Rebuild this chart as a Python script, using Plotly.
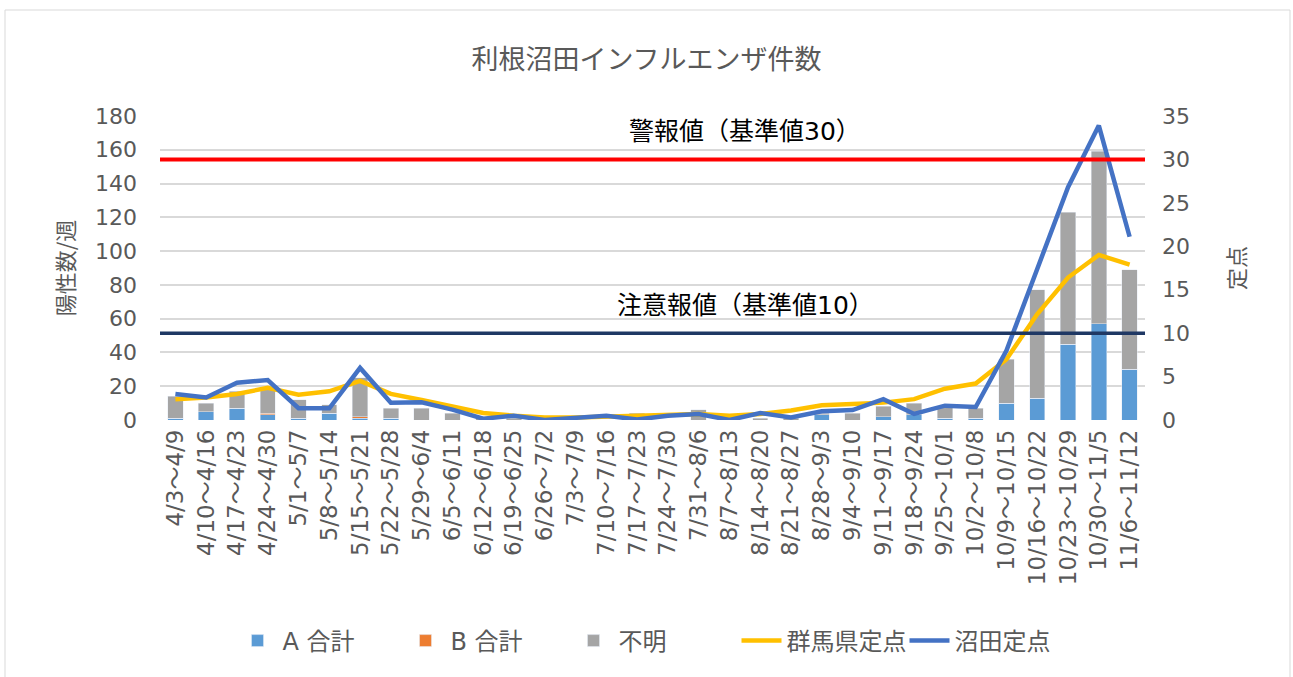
import plotly.graph_objects as go

weeks = ["4/3～4/9", "4/10～4/16", "4/17～4/23", "4/24～4/30", "5/1～5/7", "5/8～5/14",
         "5/15～5/21", "5/22～5/28", "5/29～6/4", "6/5～6/11", "6/12～6/18", "6/19～6/25",
         "6/26～7/2", "7/3～7/9", "7/10～7/16", "7/17～7/23", "7/24～7/30", "7/31～8/6",
         "8/7～8/13", "8/14～8/20", "8/21～8/27", "8/28～9/3", "9/4～9/10", "9/11～9/17",
         "9/18～9/24", "9/25～10/1", "10/2～10/8", "10/9～10/15", "10/16～10/22",
         "10/23～10/29", "10/30～11/5", "11/6～11/12"]

a_total = [1, 5, 7, 3, 1, 4, 1, 1, 0, 0, 0, 0, 0, 0, 0, 0, 0, 0, 0, 0, 0, 3, 0, 2,
           3, 1, 1, 10, 13, 45, 57, 30]
b_total = [0, 0, 0, 1, 0, 0, 1, 0, 0, 0, 0, 0, 0, 0, 0, 0, 0, 0, 0, 0, 0, 0, 0, 0,
           0, 0, 0, 0, 0, 0, 0, 0]
unknown = [13, 5, 10, 15, 11, 5, 23, 6, 7, 4, 1, 1, 0, 0, 0, 4, 0, 6, 3, 1, 1, 1, 4, 6,
           7, 7, 6, 26, 64, 78, 102, 59]

gunma = [2.4, 2.6, 3.0, 3.7, 2.9, 3.3, 4.5, 3.0, 2.3, 1.5, 0.8, 0.5, 0.3, 0.3, 0.4, 0.5,
         0.6, 0.7, 0.5, 0.7, 1.1, 1.7, 1.85, 2.0, 2.4, 3.6, 4.2, 7.0, 12.2, 16.4, 19.0, 17.9]
numata = [3.0, 2.6, 4.3, 4.6, 1.35, 1.35, 6.0, 2.0, 2.05, 1.2, 0.15, 0.5, 0.0, 0.3, 0.5, 0.05,
          0.5, 0.7, 0.0, 0.8, 0.3, 1.0, 1.15, 2.4, 0.7, 1.65, 1.5, 8.0, 17.4, 26.8, 33.9, 21.1]

alert_level = 30      # 警報値
warning_level = 10    # 注意報値

FONT = "DejaVu Sans, Noto Sans CJK JP"
CJK = "Noto Sans CJK JP"
GRAY_TXT = "#595959"

W, H = 1293, 677
PL, PR, PT, PB = 160, 1145, 116, 420   # plot area in pixels

fig = go.Figure()
fig.add_trace(go.Bar(x=weeks, y=a_total, name="A 合計", marker_color="#5B9BD5"))
fig.add_trace(go.Bar(x=weeks, y=b_total, name="B 合計", marker_color="#ED7D31"))
fig.add_trace(go.Bar(x=weeks, y=unknown, name="不明", marker_color="#A5A5A5"))

# reference level lines (span full width) on an overlaying hidden axis
fig.add_trace(go.Scatter(x=[0, 1], y=[alert_level, alert_level], xaxis="x2", yaxis="y2",
                         mode="lines", line=dict(color="#FF0000", width=4),
                         showlegend=False, hoverinfo="skip"))
fig.add_trace(go.Scatter(x=[0, 1], y=[warning_level, warning_level], xaxis="x2", yaxis="y2",
                         mode="lines", line=dict(color="#1F3864", width=3.5),
                         showlegend=False, hoverinfo="skip"))

fig.add_trace(go.Scatter(x=weeks, y=gunma, name="群馬県定点", yaxis="y2", mode="lines",
                         line=dict(color="#FFC000", width=4.5)))
fig.add_trace(go.Scatter(x=weeks, y=numata, name="沼田定点", yaxis="y2", mode="lines",
                         line=dict(color="#4472C4", width=4.5)))

fig.update_layout(
    width=W, height=H,
    barmode="stack", bargap=0.5,
    plot_bgcolor="white", paper_bgcolor="white",
    font=dict(family=FONT, color=GRAY_TXT, size=20),
    margin=dict(l=PL, r=W - PR, t=PT, b=H - PB),
    title=dict(text="利根沼田インフルエンザ件数", x=0.5, xanchor="center",
               y=1 - 60 / H, yanchor="middle",
               font=dict(size=27, color=GRAY_TXT, family=CJK)),
    xaxis=dict(type="category", tickangle=-90, tickfont=dict(size=23, color=GRAY_TXT),
               showgrid=False, ticks="", showline=False, ticklabelstandoff=4),
    xaxis2=dict(overlaying="x", range=[0, 1], visible=False),
    yaxis=dict(range=[0, 180], dtick=20, showgrid=True, gridcolor="#D9D9D9", gridwidth=1.5,
               zeroline=False, ticks="", tickfont=dict(size=22, color=GRAY_TXT),
               ticklabelstandoff=22,
               title=dict(text="陽性数/週", font=dict(size=22, color=GRAY_TXT, family=CJK),
                          standoff=14)),
    yaxis2=dict(range=[0, 35], dtick=5, overlaying="y", side="right", showgrid=False,
                zeroline=False, ticks="", tickfont=dict(size=22, color=GRAY_TXT),
                ticklabelstandoff=16,
                title=dict(text="定点", font=dict(size=22, color=GRAY_TXT, family=CJK),
                           standoff=40)),
    legend=dict(orientation="h", x=0.5, xanchor="center", y=(PB - 641) / (PB - PT),
                yanchor="middle", font=dict(size=24, color=GRAY_TXT, family=FONT),
                traceorder="normal", itemwidth=40, entrywidth=113,
                entrywidthmode="pixels"),
    showlegend=True,
)

fig.add_annotation(text="警報値（基準値30）", xref="paper", yref="y2",
                   x=(745 - PL) / (PR - PL), y=alert_level, yshift=28, showarrow=False,
                   font=dict(size=25, color="#000000", family=FONT))
fig.add_annotation(text="注意報値（基準値10）", xref="paper", yref="y2",
                   x=(745 - PL) / (PR - PL), y=warning_level, yshift=28, showarrow=False,
                   font=dict(size=25, color="#000000", family=FONT))

# chart border
fig.add_shape(type="rect", xref="paper", yref="paper",
              x0=(5 - PL) / (PR - PL), x1=(1290 - PL) / (PR - PL),
              y0=(PB - 700) / (PB - PT), y1=(PB - 10) / (PB - PT),
              line=dict(color="#D9D9D9", width=1), layer="below")

fig.write_html("out.html", config={"displayModeBar": False},
               post_script="document.body.style.margin='0';"
               "document.body.style.overflow='hidden';")
